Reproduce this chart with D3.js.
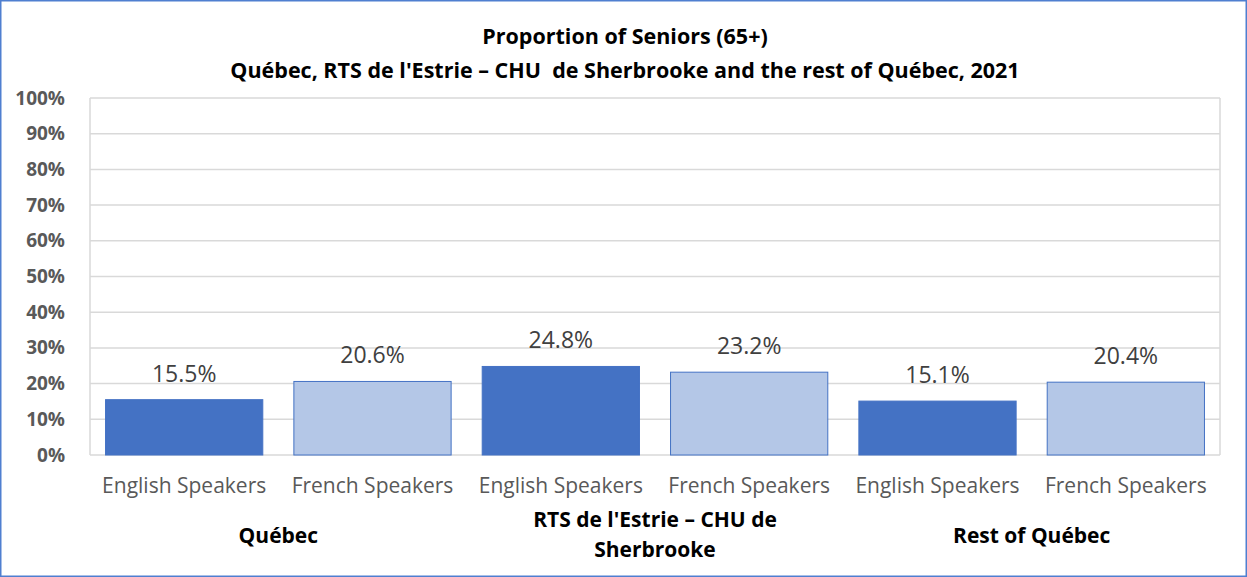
<!DOCTYPE html>
<html>
<head>
<meta charset="utf-8">
<script src="https://cdn.jsdelivr.net/npm/d3@7"></script>
<style>
  body { margin: 0; background: #fff; }
  svg { display: block; font-family: "Open Sans", Lato, sans-serif; }
</style>
</head>
<body>
<div id="chart"></div>
<script>
// --- DATA ---
const titleLines = [
    "Proportion of Seniors (65+)",
    "Québec, RTS de l'Estrie – CHU  de Sherbrooke and the rest of Québec, 2021"
];
const groups = ["Québec", "RTS de l'Estrie – CHU de Sherbrooke", "Rest of Québec"];
const speakers = ["English Speakers", "French Speakers"];
const values = [15.5, 20.6, 24.8, 23.2, 15.1, 20.4];
const yTicks = [0, 10, 20, 30, 40, 50, 60, 70, 80, 90, 100];

const W = 1247, H = 577;
const margin = { top: 98, right: 27, bottom: 122, left: 90 };
const width = W - margin.left - margin.right;
const height = H - margin.top - margin.bottom;

// une ligne par barre
const rows = [];
groups.forEach((g, gi) => speakers.forEach((s, si) => {
    rows.push({ id: gi + "-" + si, group: g, gi, speaker: s, si, value: values[gi * 2 + si] });
}));

const svg = d3.select("#chart").append("svg")
    .attr("width", W)
    .attr("height", H);

svg.append("rect")
    .attr("x", 0.75).attr("y", 0.75)
    .attr("width", W - 1.5).attr("height", H - 1.5)
    .attr("fill", "#fff")
    .attr("stroke", "#4f7fd0")
    .attr("stroke-width", 1.5);

svg.selectAll(".title").data(titleLines).enter().append("text")
    .attr("x", 625)
    .attr("y", (d, i) => 44 + i * 34)
    .attr("text-anchor", "middle")
    .attr("font-size", 21.5)
    .attr("font-weight", "bold")
    .attr("fill", "#000")
    .style("white-space", "pre")
    .text(d => d);

const g = svg.append("g").attr("transform", `translate(${margin.left},${margin.top})`);

const x = d3.scaleBand().domain(rows.map(d => d.id)).range([0, width]).paddingInner(0.165).paddingOuter(0.0825);
const y = d3.scaleLinear().domain([0, 100]).range([height, 0]);

// gridlines
g.selectAll(".grid").data(yTicks).enter().append("line")
    .attr("x1", 0).attr("x2", width)
    .attr("y1", d => y(d)).attr("y2", d => y(d))
    .attr("stroke", "#d9d9d9")
    .attr("stroke-width", 1.5);

[0, width].forEach(px => {
    g.append("line")
        .attr("x1", px).attr("x2", px)
        .attr("y1", 0).attr("y2", height)
        .attr("stroke", "#d9d9d9").attr("stroke-width", 1.5);
});

// y axis labels
const yAxis = g.append("g")
    .call(d3.axisLeft(y).tickValues(yTicks).tickFormat(d => d + "%").tickSize(0).tickPadding(25));
yAxis.select(".domain").remove();
yAxis.selectAll("text")
    .attr("font-family", "'Open Sans', sans-serif")
    .attr("font-size", 19)
    .attr("font-weight", "bold")
    .attr("fill", "#595959");

// bars
g.selectAll(".bar").data(rows).enter().append("rect")
    .attr("class", "bar")
    .attr("x", d => x(d.id))
    .attr("y", d => y(d.value))
    .attr("width", x.bandwidth())
    .attr("height", d => height - y(d.value))
    .attr("fill", d => d.si === 0 ? "#4472c4" : "#b4c7e7")
    .attr("stroke", "#4472c4")
    .attr("stroke-width", 1);

// value labels
g.selectAll(".val").data(rows).enter().append("text")
    .attr("x", d => x(d.id) + x.bandwidth() / 2)
    .attr("y", d => y(d.value) - 18)
    .attr("text-anchor", "middle")
    .attr("font-size", 23)
    .attr("fill", "#404040")
    .text(d => d.value.toFixed(1) + "%");

// category labels
g.selectAll(".cat").data(rows).enter().append("text")
    .attr("x", d => x(d.id) + x.bandwidth() / 2)
    .attr("y", height + 38)
    .attr("text-anchor", "middle")
    .attr("font-size", 21)
    .attr("fill", "#595959")
    .text(d => d.speaker);

// group labels, wrapped when too wide
g.selectAll(".grp").data(groups).enter().append("text")
    .attr("text-anchor", "middle")
    .attr("font-size", 21)
    .attr("font-weight", "bold")
    .attr("fill", "#000")
    .each(function (d, i) {
        const cx = (x(i + "-0") + x(i + "-1") + x.bandwidth()) / 2;
        const el = d3.select(this);
        const words = d.split(" ");
        const lines = [];
        let line = [];
        const probe = el.append("tspan");
        words.forEach(w => {
            line.push(w);
            probe.text(line.join(" "));
            if (probe.node().getComputedTextLength() > 300 && line.length > 1) {
                line.pop();
                lines.push(line.join(" "));
                line = [w];
            }
        });
        lines.push(line.join(" "));
        probe.remove();
        const y0 = lines.length > 1 ? height + 72 : height + 88;
        lines.forEach((l, li) => {
            el.append("tspan").attr("x", cx).attr("y", y0 + li * 30).text(l);
        });
    });
</script>
</body>
</html>
